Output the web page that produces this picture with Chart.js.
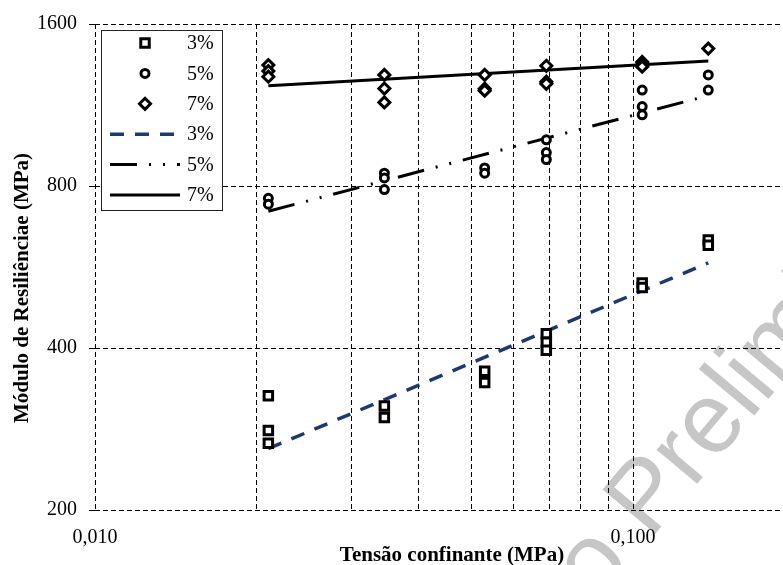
<!DOCTYPE html>
<html>
<head>
<meta charset="utf-8">
<script src="https://cdn.jsdelivr.net/npm/chart.js@4.4.1/dist/chart.umd.min.js"></script>
<style>
  html, body { margin: 0; padding: 0; background: #fff; }
  #wrap { position: relative; width: 783px; height: 565px; }
</style>
</head>
<body>
<div id="wrap"><canvas id="mrChart"></canvas></div>
<script>
// Tensão confinante (MPa) for each test stage
const tensoes = [0.021, 0.0345, 0.053, 0.069, 0.104, 0.138];

// Measured resilient modulus (MPa), replicates per stage
const mr3 = [[326, 281, 266], [312, 297], [362, 345], [425, 410, 396], [528, 518], [635, 621]];
const mr5 = [[759, 740], [845, 828, 788], [864, 845], [975, 923, 896], [1206, 1124, 1085], [1287, 1206]];
const mr7 = [[1342, 1308, 1277], [1287, 1214, 1144], [1287, 1213, 1203], [1338, 1250, 1239], [1360, 1345, 1333], [1440]];

// Power-law trend lines (end points)
const fitX = [0.021, 0.138];
const fit3 = [260, 576];
const fit5 = [718, 1178];
const fit7 = [1229, 1366];

// Axes
const xGrid = [0.01, 0.02, 0.03, 0.04, 0.05, 0.06, 0.07, 0.08, 0.09, 0.1];
const xTickValues = [0.01, 0.1];
const xTickText = ['0,010', '0,100'];
const yTicks = [200, 400, 800, 1600];

const labels = ['3%', '5%', '7%', '3%', '5%', '7%'];

function toPoints(reps) {
    return reps.flatMap((vals, i) => vals.map(v => ({ x: tensoes[i], y: v })));
}
function toLine(ys) {
    return ys.map((v, i) => ({ x: fitX[i], y: v }));
}

const serif = "'Liberation Serif', 'Times New Roman', serif";

// Legend box drawn inside the plot
const insideLegend = {
    id: 'insideLegend',
    afterDraw(chart, args, opts) {
        const ctx = chart.ctx;
        ctx.save();
        ctx.fillStyle = '#fff';
        ctx.fillRect(opts.x, opts.y, opts.w, opts.h);
        ctx.strokeStyle = '#222';
        ctx.lineWidth = 1;
        ctx.strokeRect(opts.x + 0.5, opts.y + 0.5, opts.w, opts.h);
        chart.data.datasets.forEach((ds, i) => {
            const cy = opts.y + opts.first + i * opts.gap;
            if (ds.showLine) {
                ctx.save();
                ctx.strokeStyle = ds.borderColor;
                ctx.lineWidth = ds.borderWidth;
                ctx.setLineDash(ds.borderDash || []);
                ctx.beginPath();
                ctx.moveTo(opts.lineX0, cy);
                ctx.lineTo(opts.lineX1, cy);
                ctx.stroke();
                ctx.restore();
            } else {
                ctx.save();
                ctx.fillStyle = ds.backgroundColor;
                ctx.strokeStyle = ds.borderColor;
                ctx.lineWidth = ds.borderWidth;
                Chart.helpers.drawPoint(ctx, {
                    pointStyle: ds.pointStyle,
                    radius: ds.pointRadius,
                    borderWidth: ds.borderWidth,
                    rotation: 0
                }, opts.markerX, cy);
                ctx.restore();
            }
            ctx.fillStyle = '#000';
            ctx.font = '20px ' + serif;
            ctx.textBaseline = 'middle';
            ctx.textAlign = 'left';
            ctx.fillText(ds.label, opts.textX, cy + 1);
        });
        ctx.restore();
    }
};

// Axis titles
const axisTitles = {
    id: 'axisTitles',
    afterDraw(chart) {
        const ctx = chart.ctx;
        ctx.save();
        ctx.fillStyle = '#000';
        ctx.font = 'bold 21px ' + serif;
        ctx.textAlign = 'center';
        ctx.textBaseline = 'middle';
        ctx.fillText('Tensão confinante (MPa)', 452, 556);
        ctx.translate(23, 288);
        ctx.rotate(-Math.PI / 2);
        ctx.fillText('Módulo de Resiliênciae (MPa)', 0, 0);
        ctx.restore();
    }
};

// Document watermark
const watermark = {
    id: 'watermark',
    beforeDraw(chart) {
        const ctx = chart.ctx;
        ctx.save();
        ctx.font = "100px 'Liberation Sans', Arial, sans-serif";
        ctx.fillStyle = '#c6c6c6';
        ctx.translate(650, 540);
        ctx.rotate(-50 * Math.PI / 180);
        ctx.textAlign = 'left';
        ctx.textBaseline = 'alphabetic';
        const pre = 'Versão ';
        ctx.fillText(pre + 'Preliminar', -ctx.measureText(pre).width, 0);
        ctx.restore();
    }
};

Chart.defaults.font.family = serif;
Chart.defaults.color = '#000';

new Chart(document.getElementById('mrChart'), {
    type: 'scatter',
    data: {
        datasets: [
            { label: labels[0], data: toPoints(mr3), pointStyle: 'rect', pointRadius: 6, borderWidth: 3, borderColor: '#000', backgroundColor: '#fff', showLine: false },
            { label: labels[1], data: toPoints(mr5), pointStyle: 'circle', pointRadius: 4, borderWidth: 3, borderColor: '#000', backgroundColor: '#fff', showLine: false },
            { label: labels[2], data: toPoints(mr7), pointStyle: 'rectRot', pointRadius: 5.5, borderWidth: 3, borderColor: '#000', backgroundColor: '#fff', showLine: false },
            { label: labels[3], data: toLine(fit3), showLine: true, pointRadius: 0, borderColor: '#1a3a73', borderWidth: 3.5, borderDash: [14, 11] },
            { label: labels[4], data: toLine(fit5), showLine: true, pointRadius: 0, borderColor: '#000', borderWidth: 3, borderDash: [27, 12, 2, 12, 2, 12] },
            { label: labels[5], data: toLine(fit7), showLine: true, pointRadius: 0, borderColor: '#000', borderWidth: 3 }
        ]
    },
    options: {
        responsive: true,
        maintainAspectRatio: false,
        animation: false,
        layout: { autoPadding: false, padding: { top: 22, right: 0, left: 0, bottom: 0 } },
        plugins: {
            legend: { display: false },
            tooltip: { enabled: false },
            insideLegend: { x: 101, y: 30, w: 121, h: 180, first: 13, gap: 30.4, markerX: 145, lineX0: 110, lineX1: 180, textX: 187 }
        },
        scales: {
            x: {
                type: 'logarithmic',
                min: 0.01,
                max: 0.19,
                afterBuildTicks: s => { s.ticks = xGrid.map(v => ({ value: v })); },
                afterFit: s => { s.height = 55; s.paddingLeft = 0; s.paddingRight = 0; },
                ticks: {
                    autoSkip: false,
                    maxRotation: 0,
                    padding: 16,
                    font: { size: 20 },
                    callback: v => {
                        const k = xTickValues.findIndex(t => Math.abs(t - v) < 1e-9);
                        return k >= 0 ? xTickText[k] : '';
                    }
                },
                grid: { color: '#000', lineWidth: 1, drawTicks: false },
                border: { display: false, dash: [5, 3] }
            },
            y: {
                type: 'logarithmic',
                min: 200,
                max: 1600,
                afterBuildTicks: s => { s.ticks = yTicks.map(v => ({ value: v })); },
                afterFit: s => { s.width = 95; },
                ticks: {
                    padding: 12,
                    font: { size: 20 },
                    callback: v => String(v)
                },
                grid: { color: '#000', lineWidth: 1, tickLength: 6, tickBorderDash: [] },
                border: { display: false, dash: [5, 3] }
            }
        }
    },
    plugins: [watermark, insideLegend, axisTitles]
});
</script>
</body>
</html>
